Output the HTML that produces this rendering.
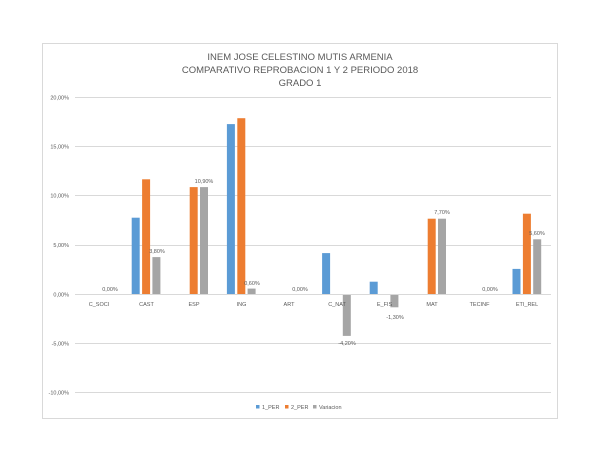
<!DOCTYPE html>
<html><head><meta charset="utf-8"><style>
html,body{margin:0;padding:0;background:#fff;}
svg{display:block;font-family:"Liberation Sans",sans-serif;}
</style></head><body>
<svg width="600" height="463" xmlns="http://www.w3.org/2000/svg">
<rect x="0" y="0" width="600" height="463" fill="#fff"/>
<rect x="42.5" y="43.5" width="515" height="375" fill="#fff" stroke="#d9d9d9"/>
<g font-size="9.5" fill="#595959" text-anchor="middle">
<text x="300" y="60">INEM JOSE CELESTINO MUTIS ARMENIA</text>
<text x="300" y="73">COMPARATIVO REPROBACION 1  Y 2 PERIODO 2018</text>
<text x="300" y="86">GRADO 1</text>
</g>
<g stroke="#d9d9d9" stroke-width="1">
<line x1="75" x2="551" y1="97.5" y2="97.5"/>
<line x1="75" x2="551" y1="146.5" y2="146.5"/>
<line x1="75" x2="551" y1="195.5" y2="195.5"/>
<line x1="75" x2="551" y1="245.5" y2="245.5"/>
<line x1="75" x2="551" y1="343.5" y2="343.5"/>
<line x1="75" x2="551" y1="392.5" y2="392.5"/>
</g>
<g font-size="5.5" fill="#595959" text-anchor="end">
<text x="69" y="99.5">20,00%</text>
<text x="69" y="148.5">15,00%</text>
<text x="69" y="197.5">10,00%</text>
<text x="69" y="247">5,00%</text>
<text x="69" y="296.5">0,00%</text>
<text x="69" y="345.5">-5,00%</text>
<text x="69" y="394.5">-10,00%</text>
</g>
<g>
<rect x="131.7" y="217.7" width="8" height="76.8" fill="#5B9BD5"/>
<rect x="142.1" y="179.3" width="8" height="115.2" fill="#ED7D31"/>
<rect x="152.4" y="257.1" width="8" height="37.4" fill="#A5A5A5"/>
<rect x="189.7" y="187.1" width="8" height="107.4" fill="#ED7D31"/>
<rect x="200" y="187.1" width="8" height="107.4" fill="#A5A5A5"/>
<rect x="226.9" y="124.1" width="8" height="170.4" fill="#5B9BD5"/>
<rect x="237.3" y="118.2" width="8" height="176.3" fill="#ED7D31"/>
<rect x="247.6" y="288.6" width="8" height="5.9" fill="#A5A5A5"/>
<rect x="322.1" y="253.1" width="8" height="41.4" fill="#5B9BD5"/>
<rect x="342.8" y="294.5" width="8" height="41.4" fill="#A5A5A5"/>
<rect x="369.7" y="281.7" width="8" height="12.8" fill="#5B9BD5"/>
<rect x="390.4" y="294.5" width="8" height="12.8" fill="#A5A5A5"/>
<rect x="427.7" y="218.7" width="8" height="75.8" fill="#ED7D31"/>
<rect x="438" y="218.7" width="8" height="75.8" fill="#A5A5A5"/>
<rect x="512.5" y="268.9" width="8" height="25.6" fill="#5B9BD5"/>
<rect x="522.9" y="213.7" width="8" height="80.8" fill="#ED7D31"/>
<rect x="533.2" y="239.3" width="8" height="55.2" fill="#A5A5A5"/>
</g>
<line x1="75" x2="551" y1="294.5" y2="294.5" stroke="#d9d9d9"/>
<g font-size="5.5" fill="#595959" text-anchor="middle">
<text x="99" y="306">C_SOCI</text>
<text x="146.5" y="306">CAST</text>
<text x="194" y="306">ESP</text>
<text x="241.5" y="306">ING</text>
<text x="289" y="306">ART</text>
<text x="337" y="306">C_NAT</text>
<text x="384.5" y="306">E_FIS</text>
<text x="432" y="306">MAT</text>
<text x="479.5" y="306">TECINF</text>
<text x="527" y="306">ETI_REL</text>
</g>
<g font-size="5.5" fill="#595959" text-anchor="middle">
<text x="110" y="291">0,00%</text>
<text x="157" y="253">3,80%</text>
<text x="204" y="183">10,90%</text>
<text x="252" y="285">0,60%</text>
<text x="300" y="291">0,00%</text>
<text x="347" y="345">-4,20%</text>
<text x="395" y="319">-1,30%</text>
<text x="442" y="214">7,70%</text>
<text x="490" y="291">0,00%</text>
<text x="537" y="235">5,60%</text>
</g>
<g font-size="5.5" fill="#595959">
<rect x="256" y="405" width="3.5" height="3.5" fill="#5B9BD5"/><text x="262" y="409">1_PER</text>
<rect x="285" y="405" width="3.5" height="3.5" fill="#ED7D31"/><text x="291" y="409">2_PER</text>
<rect x="313" y="405" width="3.5" height="3.5" fill="#A5A5A5"/><text x="319" y="409">Variacion</text>
</g>
</svg>
</body></html>
